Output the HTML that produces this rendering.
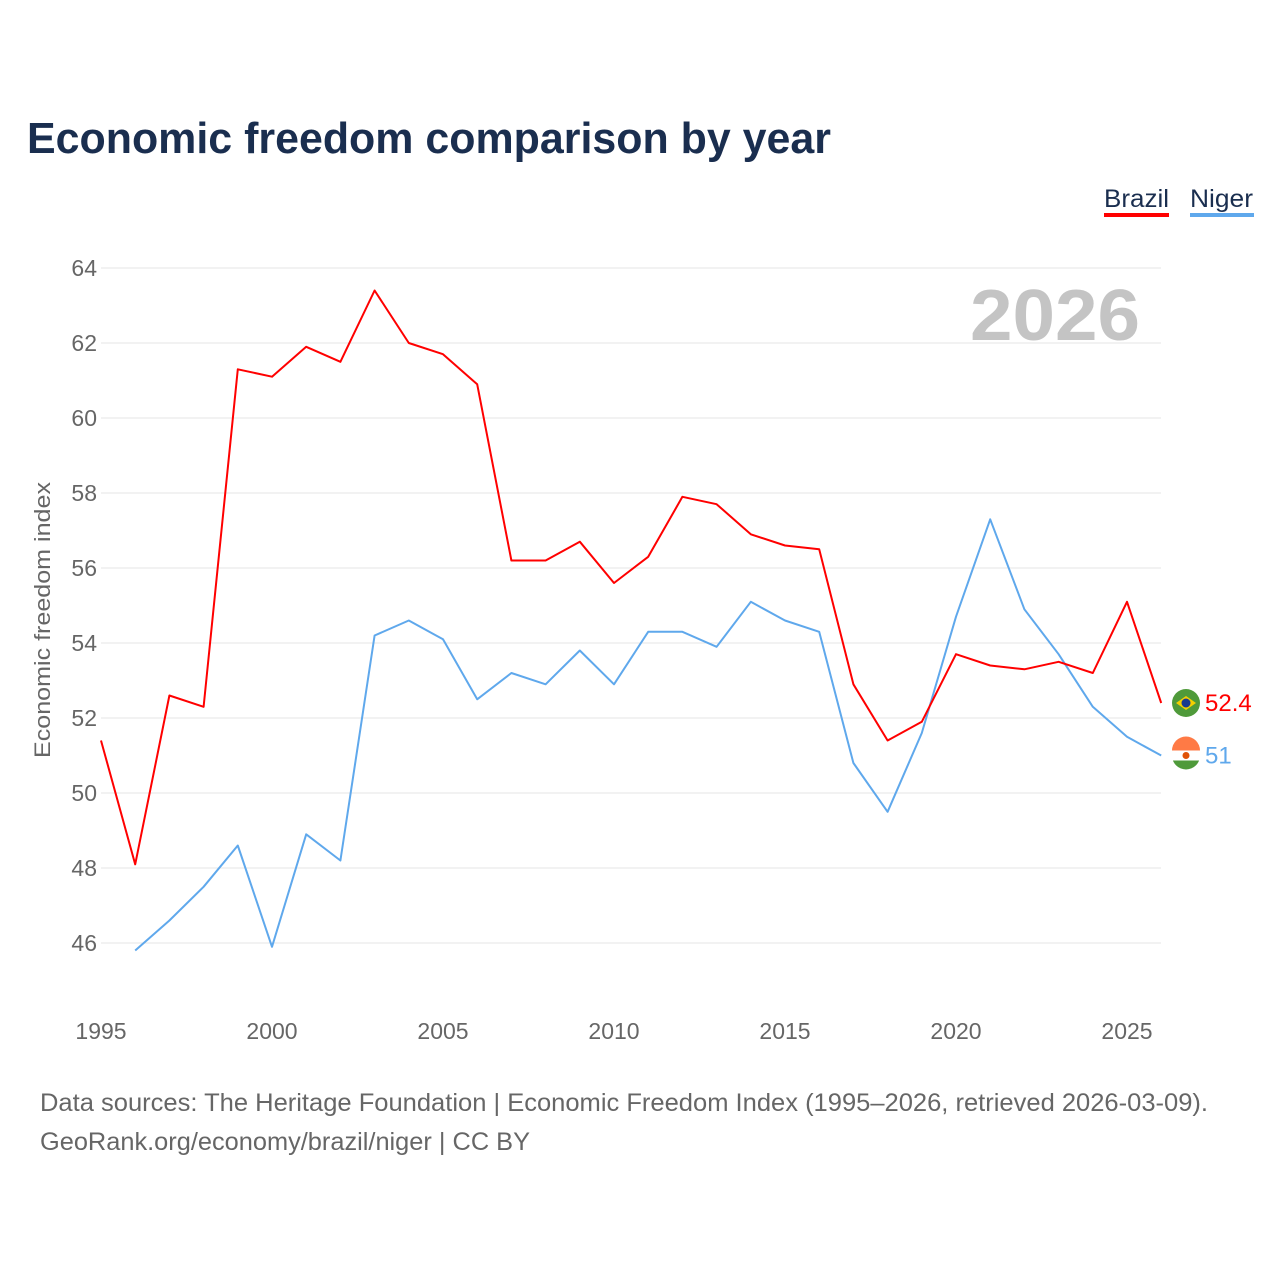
<!DOCTYPE html>
<html><head><meta charset="utf-8">
<style>
body{margin:0;background:#fff;font-family:"Liberation Sans",sans-serif;}
svg text{font-family:"Liberation Sans",sans-serif;}
</style></head>
<body>
<svg id="chart" width="1280" height="1280" xmlns="http://www.w3.org/2000/svg">
<rect width="1280" height="1280" fill="#fff"/>
<text x="27" y="153" font-size="44" font-weight="bold" fill="#1a2e4f" textLength="804" lengthAdjust="spacingAndGlyphs">Economic freedom comparison by year</text>
<g>
<text x="1104" y="207" font-size="25" fill="#1a2e4f" textLength="65" lengthAdjust="spacingAndGlyphs">Brazil</text>
<rect x="1104" y="213" width="65" height="4" fill="#ff0000"/>
<text x="1190" y="207" font-size="25" fill="#1a2e4f" textLength="63" lengthAdjust="spacingAndGlyphs">Niger</text>
<rect x="1190" y="213" width="64" height="4" fill="#5fa8ec"/>
</g>
<text x="1140" y="340" font-size="72" font-weight="bold" fill="#c4c4c4" text-anchor="end" textLength="170" lengthAdjust="spacingAndGlyphs">2026</text>
<g id="grid"></g>
<g id="axes"></g>
<g id="series"></g>
<text transform="translate(50,620) rotate(-90)" font-size="22" fill="#666" text-anchor="middle" textLength="276" lengthAdjust="spacingAndGlyphs">Economic freedom index</text>
<text x="40" y="1111" font-size="25" fill="#666" textLength="1168" lengthAdjust="spacingAndGlyphs">Data sources: The Heritage Foundation | Economic Freedom Index (1995–2026, retrieved 2026-03-09).</text>
<text x="40" y="1150" font-size="25" fill="#666" textLength="490" lengthAdjust="spacingAndGlyphs">GeoRank.org/economy/brazil/niger | CC BY</text>
</svg>
<script>
const years=[1995,1996,1997,1998,1999,2000,2001,2002,2003,2004,2005,2006,2007,2008,2009,2010,2011,2012,2013,2014,2015,2016,2017,2018,2019,2020,2021,2022,2023,2024,2025,2026];
const brazil=[51.4,48.1,52.6,52.3,61.3,61.1,61.9,61.5,63.4,62.0,61.7,60.9,56.2,56.2,56.7,55.6,56.3,57.9,57.7,56.9,56.6,56.5,52.9,51.4,51.9,53.7,53.4,53.3,53.5,53.2,55.1,52.4];
const niger=[null,45.8,46.6,47.5,48.6,45.9,48.9,48.2,54.2,54.6,54.1,52.5,53.2,52.9,53.8,52.9,54.3,54.3,53.9,55.1,54.6,54.3,50.8,49.5,51.6,54.7,57.3,54.9,53.7,52.3,51.5,51.0];
const yTicks=[46,48,50,52,54,56,58,60,62,64];
const xTicks=[1995,2000,2005,2010,2015,2020,2025];
const NS="http://www.w3.org/2000/svg";
const x=v=>101+(v-1995)*(1026/30);
const y=v=>793-(v-50)*37.5;
function mk(tag,attrs,parent){const e=document.createElementNS(NS,tag);for(const k in attrs)e.setAttribute(k,attrs[k]);parent.appendChild(e);return e;}
const grid=document.getElementById('grid'),axes=document.getElementById('axes'),ser=document.getElementById('series');
yTicks.forEach(t=>{
 const l=mk('line',{x1:101,x2:1161,y1:y(t),y2:y(t),stroke:'#e6e6e6','stroke-width':1},grid);
 
 
 const tx=mk('text',{x:97,y:y(t)+8,'font-size':23,fill:'#666','text-anchor':'end'},axes);
 tx.textContent=t;
 
 
});
xTicks.forEach(t=>{
 const tx=mk('text',{x:x(t),y:1039,'font-size':23,fill:'#666','text-anchor':'middle'},axes);
 tx.textContent=t;
 
 
});
function line(vals,color,name){
 let d='';let started=false;
 vals.forEach((v,i)=>{if(v==null)return;d+=(started?'L':'M')+x(years[i]).toFixed(1)+','+y(v).toFixed(1);started=true;});
 const p=mk('path',{d:d,fill:'none',stroke:color,'stroke-width':2,'stroke-linejoin':'round'},ser);
 
 
}
line(niger,'#5fa8ec','niger');
line(brazil,'#ff0000','brazil');
function endLabel(vals,color,name,c1){
 const v=vals[vals.length-1],cy=y(v),cx=1186;
 const g=mk('g',{},ser);
 
 
 mk('circle',{cx:cx,cy:cy,r:14,fill:c1},g);
 if(name==='brazil'){mk('polygon',{points:`${cx-10},${cy} ${cx},${cy-7} ${cx+10},${cy} ${cx},${cy+7}`,fill:'#f5d000'},g);mk('circle',{cx:cx,cy:cy,r:4.5,fill:'#1a3b8f'},g);}
 else{mk('rect',{x:cx-14,y:cy-5,width:28,height:10,fill:'#fff'},g);mk('circle',{cx:cx,cy:cy,r:3.5,fill:'#e05206'},g);mk('path',{d:`M${cx-14},${cy-5} A14,14 0 0 1 ${cx+14},${cy-5}Z`,fill:'#ff7a45'},g);}
 const t=mk('text',{x:1205,y:cy+8,'font-size':24,fill:color},ser);
 t.textContent=v;
 
 
}
endLabel(brazil,'#ff0000','brazil','#4f9a3a');
endLabel(niger,'#5fa8ec','niger','#4f9a3a');
</script>
</body></html>
